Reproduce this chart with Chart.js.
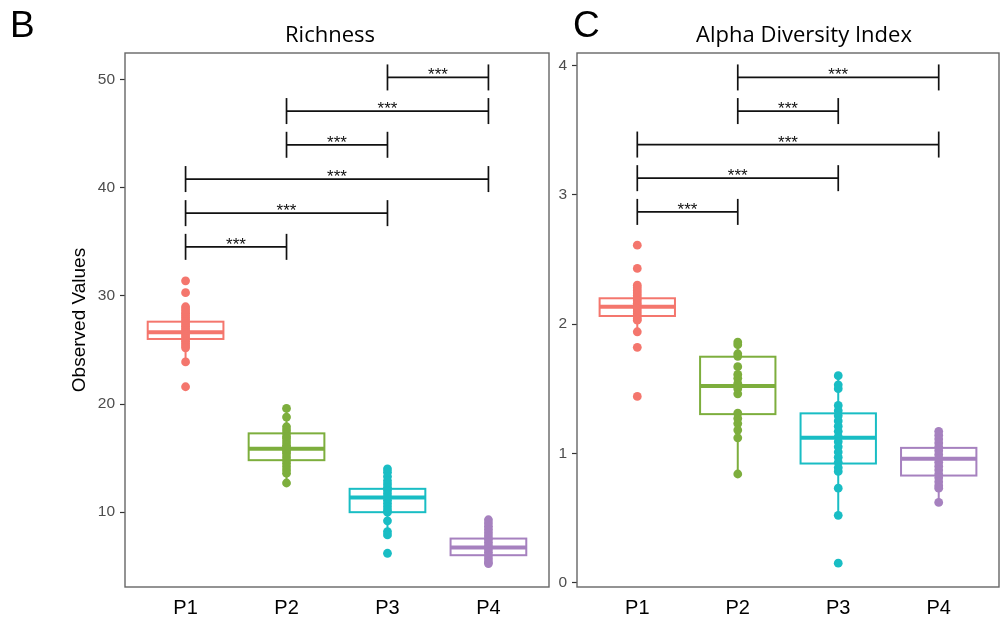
<!DOCTYPE html>
<html>
<head>
<meta charset="utf-8">
<script src="https://cdn.jsdelivr.net/npm/chart.js@4.4.1/dist/chart.umd.min.js"></script>
<style>
  html, body { margin: 0; padding: 0; background: #fff; }
  #wrap { position: relative; width: 1000px; height: 625px; overflow: hidden; background: #fff; }
  #wrap canvas { position: absolute; top: 0; }
  #richness { left: 0; }
  #alpha { left: 550px; }
</style>
</head>
<body>
<div id="wrap">
  <canvas id="richness" width="550" height="625"></canvas>
  <canvas id="alpha" width="450" height="625"></canvas>
</div>
<script>
const groups = ["P1", "P2", "P3", "P4"];
const groupColors = ["#f4766d", "#7dae3d", "#19bdc4", "#a681bf"];

const richnessTicks = [10, 20, 30, 40, 50];
const richnessP1 = [31.4, 30.3, 29.0, 28.8, 28.6, 28.4, 28.2, 28.0, 27.8, 27.6, 27.4, 27.2, 27.0, 26.8, 26.6, 26.4, 26.2, 26.0, 25.8, 25.6, 25.4, 25.2, 23.9, 21.6];
const richnessP2 = [19.6, 18.8, 17.9, 17.6, 17.3, 17.0, 16.8, 16.5, 16.2, 16.0, 15.8, 15.6, 15.4, 15.1, 14.8, 14.5, 14.2, 13.9, 13.6, 12.7];
const richnessP3 = [14.0, 13.7, 13.3, 12.9, 12.6, 12.3, 12.0, 11.7, 11.4, 11.1, 10.8, 10.5, 10.2, 10.0, 9.2, 8.2, 7.9, 6.2];
const richnessP4 = [9.3, 9.0, 8.7, 8.4, 8.1, 7.8, 7.5, 7.2, 6.9, 6.6, 6.3, 6.0, 5.7, 5.4, 5.25];
const richnessQ1 = [26.02, 14.81, 10.0, 6.02];
const richnessMedian = [26.64, 15.86, 11.36, 6.73];
const richnessQ3 = [27.62, 17.29, 12.16, 7.56];
const richnessLow = [23.86, 12.71, 7.87, 5.25];
const richnessHigh = [29.0, 19.6, 14.05, 9.35];
const richnessPairs = [[3, 4], [2, 4], [2, 3], [1, 4], [1, 3], [1, 2]];
const richnessPairY = [50.21, 47.10, 43.98, 40.81, 37.66, 34.54];
const richnessStars = ["***", "***", "***", "***", "***", "***"];

// Alpha diversity index
const alphaTicks = [0, 1, 2, 3, 4];
const alphaP1 = [2.61, 2.43, 2.30, 2.28, 2.26, 2.24, 2.22, 2.20, 2.18, 2.16, 2.14, 2.12, 2.10, 2.08, 2.06, 2.04, 2.03, 1.94, 1.82, 1.44];
const alphaP2 = [1.86, 1.84, 1.77, 1.75, 1.67, 1.61, 1.58, 1.54, 1.50, 1.46, 1.31, 1.27, 1.23, 1.18, 1.12, 0.84];
const alphaP3 = [1.60, 1.53, 1.50, 1.37, 1.33, 1.29, 1.25, 1.21, 1.17, 1.13, 1.09, 1.05, 1.01, 0.97, 0.93, 0.89, 0.86, 0.73, 0.52, 0.15];
const alphaP4 = [1.17, 1.14, 1.11, 1.08, 1.05, 1.02, 0.99, 0.96, 0.93, 0.90, 0.87, 0.84, 0.81, 0.78, 0.75, 0.73, 0.62];
const alphaQ1 = [2.062, 1.303, 0.921, 0.828];
const alphaMedian = [2.134, 1.520, 1.120, 0.957];
const alphaQ3 = [2.199, 1.747, 1.309, 1.042];
const alphaLow = [1.938, 0.844, 0.521, 0.616];
const alphaHigh = [2.30, 1.863, 1.592, 1.174];
const alphaPairs = [[2, 4], [2, 3], [1, 4], [1, 3], [1, 2]];
const alphaPairY = [3.907, 3.647, 3.388, 3.128, 2.867];
const alphaStars = ["***", "***", "***", "***", "***"];

const SANS = '"Liberation Sans", Arial, sans-serif';

function strokeLine(ctx, x1, y1, x2, y2) {
  ctx.beginPath();
  ctx.moveTo(x1, y1);
  ctx.lineTo(x2, y2);
  ctx.stroke();
}

function makePanel(canvas, cfg) {
  const datasets = cfg.points.map(function (vals, i) {
    return {
      data: vals.map(function (v) { return { x: i + 1, y: v }; }),
      backgroundColor: groupColors[i],
      borderWidth: 0,
      pointRadius: 4.4,
      pointHoverRadius: 4.4,
    };
  });

  // boxes go under the points, brackets + frame + headings on top
  const boxPlugin = {
    id: "boxes",
    beforeDatasetsDraw: function (chart) {
      const ctx = chart.ctx;
      const x = chart.scales.x, y = chart.scales.y;
      const half = x.getPixelForValue(1.375) - x.getPixelForValue(1);
      ctx.save();
      cfg.q1.forEach(function (q1, i) {
        const cx = x.getPixelForValue(i + 1);
        const top = y.getPixelForValue(cfg.q3[i]);
        const bot = y.getPixelForValue(q1);
        const med = y.getPixelForValue(cfg.median[i]);
        ctx.strokeStyle = groupColors[i];
        ctx.lineWidth = 2;
        strokeLine(ctx, cx, top, cx, y.getPixelForValue(cfg.high[i]));
        strokeLine(ctx, cx, bot, cx, y.getPixelForValue(cfg.low[i]));
        ctx.fillStyle = "#fff";
        ctx.fillRect(cx - half, top, half * 2, bot - top);
        ctx.strokeRect(cx - half, top, half * 2, bot - top);
        ctx.lineWidth = 4;
        strokeLine(ctx, cx - half, med, cx + half, med);
      });
      ctx.restore();
    },
    afterDraw: function (chart) {
      const ctx = chart.ctx;
      const x = chart.scales.x, y = chart.scales.y;
      const area = chart.chartArea;
      ctx.save();
      ctx.strokeStyle = "#666";
      ctx.lineWidth = 1.4;
      ctx.strokeRect(area.left, area.top, area.right - area.left, area.bottom - area.top);

      ctx.strokeStyle = "#111";
      ctx.fillStyle = "#111";
      ctx.lineWidth = 1.7;
      ctx.font = "17px " + SANS;
      ctx.textAlign = "center";
      ctx.textBaseline = "alphabetic";
      cfg.pairs.forEach(function (pair, k) {
        const x1 = x.getPixelForValue(pair[0]);
        const x2 = x.getPixelForValue(pair[1]);
        const yy = y.getPixelForValue(cfg.pairY[k]);
        strokeLine(ctx, x1, yy, x2, yy);
        strokeLine(ctx, x1, yy - 13, x1, yy + 13);
        strokeLine(ctx, x2, yy - 13, x2, yy + 13);
        ctx.fillText(cfg.stars[k], (x1 + x2) / 2, yy + 3);
      });

      ctx.fillStyle = "#000";
      ctx.textAlign = "left";
      ctx.font = "37px " + SANS;
      ctx.fillText(cfg.letter, cfg.letterX, 37);
      ctx.textAlign = "center";
      ctx.font = '22px "Open Sans", sans-serif';
      ctx.fillText(cfg.title, cfg.titleX, 42);
      ctx.restore();
    },
  };

  return new Chart(canvas, {
    type: "scatter",
    data: { datasets: datasets },
    plugins: [boxPlugin],
    options: {
      responsive: false,
      animation: false,
      layout: { autoPadding: false, padding: { left: 0, right: 1, top: 53, bottom: 0 } },
      plugins: {
        legend: { display: false },
        tooltip: { enabled: false },
      },
      scales: {
        x: {
          type: "linear",
          min: 0.4,
          max: 4.6,
          afterBuildTicks: function (scale) {
            scale.ticks = groups.map(function (g, i) { return { value: i + 1 }; });
          },
          afterFit: function (scale) { scale.height = 38; },
          ticks: {
            autoSkip: false,
            maxRotation: 0,
            padding: 9,
            color: "#000",
            font: { family: SANS, size: 20 },
            callback: function (value) { return groups[value - 1]; },
          },
          grid: { display: false, drawTicks: false },
          border: { display: false },
        },
        y: {
          type: "linear",
          min: cfg.yMin,
          max: cfg.yMax,
          afterBuildTicks: function (scale) {
            scale.ticks = cfg.ticks.map(function (v) { return { value: v }; });
          },
          afterFit: function (scale) { scale.width = cfg.yWidth; },
          ticks: {
            padding: 5,
            color: "#4d4d4d",
            font: { family: SANS, size: 15.5 },
          },
          grid: {
            display: true,
            drawOnChartArea: false,
            drawTicks: true,
            tickLength: 5,
            tickColor: "#333",
            tickWidth: 1.2,
          },
          border: { display: false },
          title: {
            display: !!cfg.yTitle,
            text: cfg.yTitle || "",
            color: "#000",
            font: { family: SANS, size: 19 },
            padding: { top: 68, bottom: 0 },
          },
        },
      },
    },
  });
}

makePanel(document.getElementById("richness"), {
  points: [richnessP1, richnessP2, richnessP3, richnessP4],
  q1: richnessQ1, median: richnessMedian, q3: richnessQ3, low: richnessLow, high: richnessHigh,
  pairs: richnessPairs, pairY: richnessPairY, stars: richnessStars,
  ticks: richnessTicks, yMin: 3.08, yMax: 52.47, yWidth: 125,
  yTitle: "Observed Values",
  letter: "B", letterX: 10, title: "Richness", titleX: 330,
});

makePanel(document.getElementById("alpha"), {
  points: [alphaP1, alphaP2, alphaP3, alphaP4],
  q1: alphaQ1, median: alphaMedian, q3: alphaQ3, low: alphaLow, high: alphaHigh,
  pairs: alphaPairs, pairY: alphaPairY, stars: alphaStars,
  ticks: alphaTicks, yMin: -0.034, yMax: 4.096, yWidth: 27,
  yTitle: null,
  letter: "C", letterX: 23, title: "Alpha Diversity Index", titleX: 254,
});
</script>
</body>
</html>
